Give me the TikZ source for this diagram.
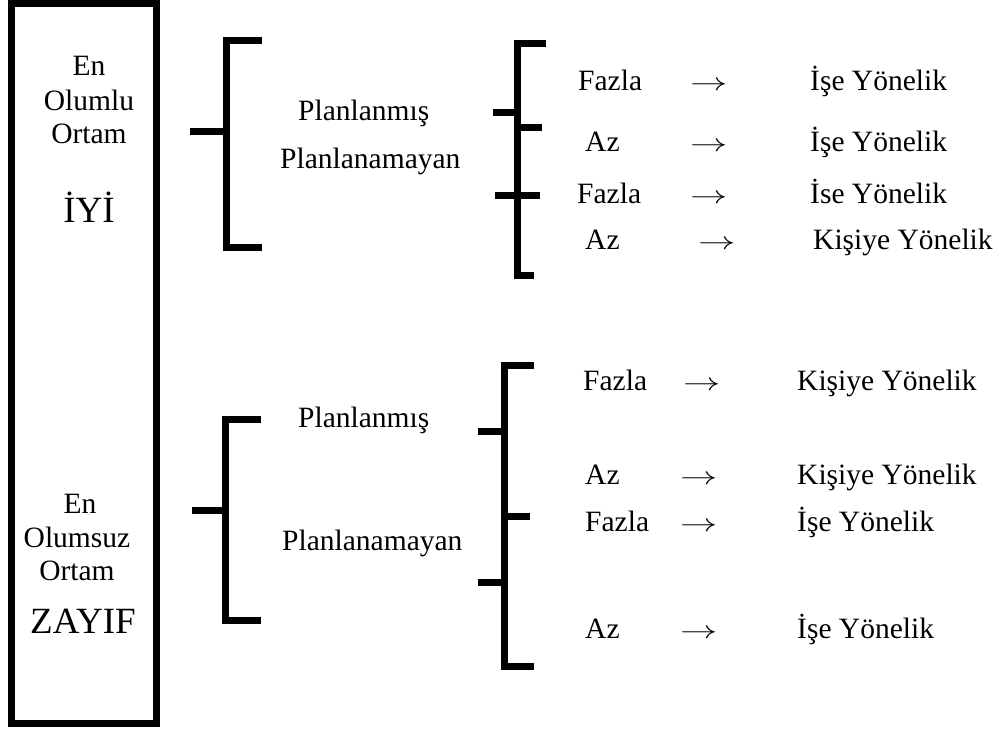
\documentclass[tikz,border=0pt]{standalone}
\usepackage{fontspec}
\setmainfont{Liberation Serif}
\newcommand{\myarrow}{\scalebox{1.5}[1]{$\rightarrow$}}
\begin{document}
\begin{tikzpicture}[x=1pt,y=-1pt,
  lbl/.style={inner sep=0pt, anchor=base west, font=\fontsize{29.5}{32}\selectfont},
  ctr/.style={inner sep=0pt, anchor=base, font=\fontsize{29.5}{32}\selectfont},
  bigtxt/.style={inner sep=0pt, anchor=base, font=\fontsize{37}{40}\selectfont},
  arr/.style={inner sep=0pt, anchor=base west, font=\fontsize{29.5}{32}\selectfont},
  brk/.style={line width=7pt, line join=miter, line cap=rect},
  stub/.style={line width=7pt}]
\useasboundingbox (0,0) rectangle (999,731);
% left box
\coordinate (boxnw) at (11.5,3.5);
\coordinate (boxse) at (156,723);
\draw[line width=7pt] (boxnw) rectangle (boxse);
\node[ctr] (en1) at (89,75) {En};
\node[ctr] (olumlu) at (89,110) {Olumlu};
\node[ctr] (ortam1) at (89,143) {Ortam};
\node[bigtxt] (iyi) at (89,222) {İYİ};
\node[ctr] (en2) at (80,513) {En};
\node[ctr] (olumsuz) at (77,547) {Olumsuz};
\node[ctr] (ortam2) at (77,580) {Ortam};
\node[bigtxt] (zayif) at (83,633) {ZAYIF};
% bracket 1
\coordinate (b1a) at (258,40); \coordinate (b1b) at (226,40);
\coordinate (b1c) at (226,247); \coordinate (b1d) at (258,247);
\coordinate (b1s) at (190,131); \coordinate (b1t) at (226,131);
\draw[brk] (b1a) -- (b1b) -- (b1c) -- (b1d);
\draw[stub] (b1s) -- (b1t);
% bracket 2
\coordinate (b2a) at (542,43); \coordinate (b2b) at (517,43);
\coordinate (b2c) at (517,275); \coordinate (b2d) at (530,275);
\coordinate (b2l1) at (493,112); \coordinate (b2m1) at (517,112);
\coordinate (b2m2) at (517,127); \coordinate (b2r2) at (542,127);
\coordinate (b2l3) at (495,195); \coordinate (b2r3) at (540,195);
\draw[brk] (b2a) -- (b2b) -- (b2c) -- (b2d);
\draw[stub] (b2l1) -- (b2m1);
\draw[stub] (b2m2) -- (b2r2);
\draw[stub] (b2l3) -- (b2r3);
% bracket 3
\coordinate (b3a) at (257,419); \coordinate (b3b) at (225,419);
\coordinate (b3c) at (225,620); \coordinate (b3d) at (257,620);
\coordinate (b3s) at (192,510); \coordinate (b3t) at (225,510);
\draw[brk] (b3a) -- (b3b) -- (b3c) -- (b3d);
\draw[stub] (b3s) -- (b3t);
% bracket 4
\coordinate (b4a) at (530,365); \coordinate (b4b) at (504,365);
\coordinate (b4c) at (504,666); \coordinate (b4d) at (530,666);
\coordinate (b4l1) at (478,431); \coordinate (b4m1) at (504,431);
\coordinate (b4m2) at (504,516); \coordinate (b4r2) at (530,516);
\coordinate (b4l3) at (478,582); \coordinate (b4m3) at (504,582);
\draw[brk] (b4a) -- (b4b) -- (b4c) -- (b4d);
\draw[stub] (b4l1) -- (b4m1);
\draw[stub] (b4m2) -- (b4r2);
\draw[stub] (b4l3) -- (b4m3);
% middle labels
\node[lbl] (plan1) at (298,120) {Planlanmış};
\node[lbl] (plana1) at (280,168) {Planlanamayan};
\node[lbl] (plan2) at (298,427) {Planlanmış};
\node[lbl] (plana2) at (282,550) {Planlanamayan};
% top rows
\node[lbl] (t1l) at (578,90) {Fazla};
\node[arr] (t1a) at (690,90) {\myarrow};
\node[lbl] (t1r) at (810,90) {İşe Yönelik};
\node[lbl] (t2l) at (585,151) {Az};
\node[arr] (t2a) at (690,151) {\myarrow};
\node[lbl] (t2r) at (810,151) {İşe Yönelik};
\node[lbl] (t3l) at (577,203) {Fazla};
\node[arr] (t3a) at (690,203) {\myarrow};
\node[lbl] (t3r) at (810,203) {İse Yönelik};
\node[lbl] (t4l) at (585,249) {Az};
\node[arr] (t4a) at (698,249) {\myarrow};
\node[lbl] (t4r) at (813,249) {Kişiye Yönelik};
% bottom rows
\node[lbl] (u1l) at (583,390) {Fazla};
\node[arr] (u1a) at (683,390) {\myarrow};
\node[lbl] (u1r) at (797,390) {Kişiye Yönelik};
\node[lbl] (u2l) at (585,484) {Az};
\node[arr] (u2a) at (680,484) {\myarrow};
\node[lbl] (u2r) at (797,484) {Kişiye Yönelik};
\node[lbl] (u3l) at (585,531) {Fazla};
\node[arr] (u3a) at (680,531) {\myarrow};
\node[lbl] (u3r) at (797,531) {İşe Yönelik};
\node[lbl] (u4l) at (585,638) {Az};
\node[arr] (u4a) at (680,638) {\myarrow};
\node[lbl] (u4r) at (797,638) {İşe Yönelik};
\end{tikzpicture}
\end{document}
